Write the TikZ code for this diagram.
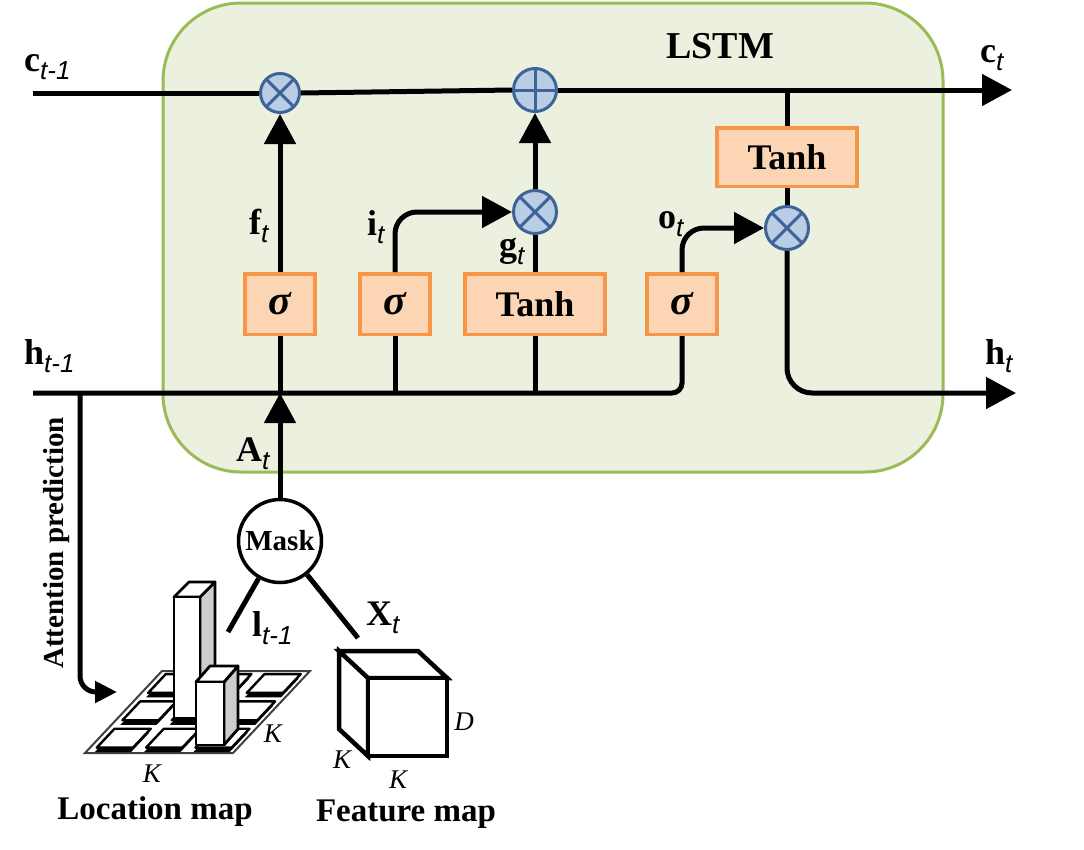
\documentclass[tikz,border=0pt]{standalone}
\usepackage{fontspec}
\setmainfont{Liberation Serif}
\newfontfamily\subfont{Liberation Sans}
\usetikzlibrary{arrows.meta}
\definecolor{lstmfill}{HTML}{EBF1DE}
\definecolor{lstmborder}{HTML}{9BBB59}
\definecolor{gatefill}{HTML}{FCD5B5}
\definecolor{gateborder}{HTML}{F79646}
\definecolor{opfill}{HTML}{B9CDE5}
\definecolor{opborder}{HTML}{3E6497}
\definecolor{barside}{HTML}{CCCCCC}
\newcommand\lowsub[1]{\raisebox{-8pt}{\fontsize{26}{26}\selectfont\subfont\itshape\mdseries #1}}
\begin{document}
\begin{tikzpicture}[x=1pt,y=-1pt,
  wire/.style={line width=5pt},
  bigarrow/.style={-{Triangle[length=30pt,width=31pt]}},
  smallarrow/.style={-{Triangle[length=22pt,width=21pt]}},
  gate/.style={draw=gateborder, fill=gatefill, line width=3.5pt, minimum height=60.5pt, inner sep=0pt, font=\fontsize{36}{36}\selectfont\bfseries},
  sig/.style={gate, minimum width=70pt, font=\fontsize{42}{42}\selectfont\bfseries\itshape},
  op/.style={circle, draw=opborder, fill=opfill, line width=3pt, inner sep=0pt},
  times/.style={op, path picture={\draw[opborder, line width=3pt] (path picture bounding box.north west) -- (path picture bounding box.south east) (path picture bounding box.north east) -- (path picture bounding box.south west);}},
  plus/.style={op, path picture={\draw[opborder, line width=3pt] (path picture bounding box.north) -- (path picture bounding box.south) (path picture bounding box.west) -- (path picture bounding box.east);}},
  lab/.style={inner sep=0pt, anchor=base west, font=\fontsize{36}{36}\selectfont\bfseries},
  dimlab/.style={inner sep=0pt, font=\fontsize{27}{27}\selectfont\itshape},
  caption/.style={inner sep=0pt, anchor=base, font=\fontsize{33}{33}\selectfont\bfseries},
  tiletop/.style={fill=white, draw=black, line width=2.4pt, line join=round},
  barline/.style={draw=black, line width=2.8pt, line join=round}
]
\useasboundingbox (0,0) rectangle (1084,849);

% LSTM cell
\draw[fill=lstmfill, draw=lstmborder, line width=3pt, rounded corners=78pt] (163,3) rectangle (943,472);
\node[lab, font=\fontsize{38}{38}\selectfont\bfseries] (title) at (666,58) {LSTM};

% operators
\node[times, minimum size=39pt] (m1) at (280,93) {};
\node[plus, minimum size=43pt] (add) at (535,90) {};
\node[times, minimum size=43pt] (mg) at (535,212) {};
\node[times, minimum size=43pt] (mo) at (787,228) {};

% gates
\node[sig] (sf) at (280,304) {σ};
\node[sig] (si) at (395,304) {σ};
\node[gate, minimum width=140pt] (tg) at (535,304) {Tanh};
\node[sig] (so) at (682,304) {σ};
\node[gate, minimum width=140pt, minimum height=58.5pt] (tc) at (787,157) {Tanh};

% free ends
\coordinate (cin) at (33,93);
\coordinate (cout) at (1012,90);
\coordinate (hin) at (33,393);
\coordinate (hout) at (1016,393);
\coordinate (attS) at (80,393);
\coordinate (attE) at (117,692);

% cell state line
\draw[wire] (cin) -- (m1.west);
\draw[wire] (m1.east) -- (add.west);
\draw[wire, bigarrow] (add.east) -- (cout);
\draw[wire] (tc.north) -- (tc.north |- cout);
\draw[wire] (tc.south) -- (mo.north);

% hidden state line
\draw[wire, rounded corners=10pt] (hin) -- (so.south |- hin) -- (so.south);
\draw[wire] (sf.south) -- (sf.south |- hin);
\draw[wire] (si.south) -- (si.south |- hin);
\draw[wire] (tg.south) -- (tg.south |- hin);

% gate outputs
\draw[wire, bigarrow] (sf.north) -- (m1.south);
\draw[wire, bigarrow, rounded corners=22pt] (si.north) -- (si.north |- mg.west) -- (mg.west);
\draw[wire] (tg.north) -- (mg.south);
\draw[wire, bigarrow] (mg.north) -- (add.south);
\draw[wire, bigarrow, rounded corners=22pt] (so.north) -- (so.north |- mo.west) -- (mo.west);
\draw[wire, bigarrow, rounded corners=25pt] (mo.south) -- (mo.south |- hout) -- (hout);

% labels
\node[lab] (lc1) at (24,71) {c\lowsub{t-1}};
\node[lab] (lh1) at (24,364) {h\lowsub{t-1}};
\node[lab] (lct) at (980,62) {c\lowsub{t}};
\node[lab] (lht) at (985,364) {h\lowsub{t}};
\node[lab] (lf) at (249,234) {f\lowsub{t}};
\node[lab] (li) at (367,235) {i\lowsub{t}};
\node[lab] (lg) at (499,256) {g\lowsub{t}};
\node[lab] (lo) at (658,228) {o\lowsub{t}};
\node[lab] (la) at (236,461) {A\lowsub{t}};

% mask
\node[circle, draw=black, fill=white, line width=3.5pt, minimum size=83pt, inner sep=0pt, font=\fontsize{29}{29}\selectfont\bfseries] (mask) at (280,541) {Mask};
\draw[wire, bigarrow] (mask.north) -- (mask.north |- hin);
\coordinate (lEnd) at (228,632);
\coordinate (xEnd) at (358,638);
\draw[wire] (mask) -- (lEnd);
\draw[wire] (mask) -- (xEnd);
\node[lab] (ll) at (252,636) {l\lowsub{t-1}};
\node[lab] (lx) at (366,625) {X\lowsub{t}};

% attention prediction
\draw[wire, smallarrow, rounded corners=16pt] (attS) -- (attS |- attE) -- (attE);
\node[inner sep=0pt, rotate=90, font=\fontsize{29}{29}\selectfont\bfseries] (att) at (57,543) {Attention prediction};

% location map
\begin{scope}[shift={(85,753)}, x={(148pt,0pt)}, y={(77pt,82pt)}]
  \draw[fill=white, draw=black!75, line width=2pt] (0,0) -- (1,0) -- (1,1) -- (0,1) -- cycle;
  \foreach \j in {2,1,0}{
    \foreach \i in {0,1,2}{
      \pgfmathsetmacro{\sa}{\i/3+0.045}
      \pgfmathsetmacro{\sb}{\i/3+0.29}
      \pgfmathsetmacro{\ta}{\j/3+0.06}
      \pgfmathsetmacro{\tb}{\j/3+0.29}
      \begin{scope}[xshift=-1.5pt, yshift=-4pt]
        \fill[black] (\sa,\ta) -- (\sb,\ta) -- (\sb,\tb) -- (\sa,\tb) -- cycle;
      \end{scope}
      \fill[black] (\sa,\ta) -- (\sb,\ta) -- (\sb,\tb) -- (\sa,\tb) -- cycle;
      \begin{scope}[xshift=0.5pt, yshift=0.5pt]
        \filldraw[tiletop] (\sa,\ta) -- (\sb,\ta) -- (\sb,\tb) -- (\sa,\tb) -- cycle;
      \end{scope}
    }
  }
\end{scope}
% tall bar
\filldraw[barline, fill=barside] (200,597) -- (215,582) -- (215,703) -- (200,718) -- cycle;
\filldraw[barline, fill=white] (174,597) -- (200,597) -- (215,582) -- (189,582) -- cycle;
\filldraw[barline, fill=white] (174,597) rectangle (200,718);
% small bar
\filldraw[barline, fill=barside] (224,682) -- (238,666) -- (238,729) -- (224,745) -- cycle;
\filldraw[barline, fill=white] (196,682) -- (224,682) -- (238,666) -- (210,666) -- cycle;
\filldraw[barline, fill=white] (196,682) rectangle (224,745);
\node[dimlab] (k1) at (152,774) {K};
\node[dimlab] (k2) at (273,734) {K};
\node[caption] (locmap) at (155,819) {Location map};

% feature map cube
\filldraw[fill=white, draw=black, line width=4.5pt, line join=miter]
  (368,678) -- (339,651) -- (418,651) -- (447,678) -- cycle
  (368,678) -- (339,651) -- (339,729) -- (368,756) -- cycle;
\filldraw[fill=white, draw=black, line width=4.5pt, line join=miter] (368,678) rectangle (447,756);
\node[dimlab] (dd) at (464,722) {D};
\node[dimlab] (k3) at (342,760) {K};
\node[dimlab] (k4) at (398,780) {K};
\node[caption] (featmap) at (406,821) {Feature map};
\end{tikzpicture}
\end{document}
